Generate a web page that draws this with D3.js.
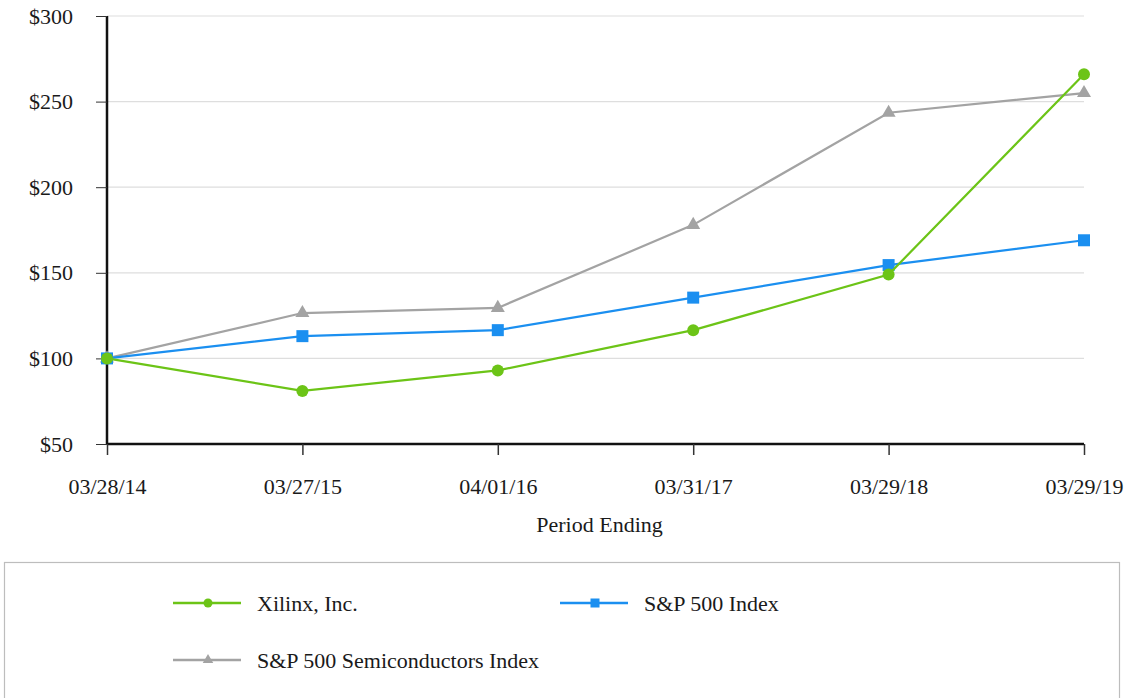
<!DOCTYPE html>
<html>
<head>
<meta charset="utf-8">
<script src="https://cdn.jsdelivr.net/npm/d3@7"></script>
<style>
  body { margin: 0; background: #fff; }
  svg { display: block; font-family: "Liberation Serif", "Times New Roman", serif; }
</style>
</head>
<body>
<svg id="chart" width="1132" height="698"></svg>
<script>
const periods = ["03/28/14", "03/27/15", "04/01/16", "03/31/17", "03/29/18", "03/29/19"];
const xilinx = [100, 81, 93, 116.5, 149, 266];
const sp500 = [100, 113, 116.5, 135.5, 154.5, 169];
const semis = [100, 126.5, 129.5, 178, 243.5, 255];
const yTicks = [50, 100, 150, 200, 250, 300];

const series = [
  { name: "Xilinx, Inc.", values: xilinx, color: "#6cc417", marker: "circle" },
  { name: "S&P 500 Index", values: sp500, color: "#1b8ff0", marker: "square" },
  { name: "S&P 500 Semiconductors Index", values: semis, color: "#a3a3a3", marker: "triangle" },
];

const svg = d3.select("#chart");
const plotLeft = 107, plotRight = 1084, plotTop = 16, plotBottom = 444;
const fontSize = 22;
const textColor = "#1a1a1a";

const x = d3.scalePoint().domain(periods).range([plotLeft, plotRight]);
const y = d3.scaleLinear().domain([50, 300]).range([plotBottom, plotTop]);

// gridlines
svg.append("g")
  .selectAll("line")
  .data(yTicks.filter((d) => d > 50))
  .join("line")
  .attr("x1", plotLeft)
  .attr("x2", plotRight)
  .attr("y1", (d) => y(d))
  .attr("y2", (d) => y(d))
  .attr("stroke", "#dedede")
  .attr("stroke-width", 1.2);

// y axis
const yAxis = svg.append("g")
  .attr("transform", `translate(${plotLeft},0)`)
  .call(d3.axisLeft(y).tickValues(yTicks).tickSize(11).tickPadding(23).tickFormat((d) => "$" + d));
yAxis.select(".domain").attr("stroke", "#111").attr("stroke-width", 2.5).attr("d", `M0,${plotTop}V${plotBottom}`);
yAxis.selectAll(".tick line").attr("stroke", "#333").attr("stroke-width", 1);
yAxis.selectAll("text")
  .attr("font-size", fontSize)
  .attr("fill", textColor)
  .attr("font-family", "Liberation Serif, serif");

// x axis
const xAxis = svg.append("g")
  .attr("transform", `translate(0,${plotBottom})`)
  .call(d3.axisBottom(x).tickSize(11).tickPadding(23));
xAxis.select(".domain").attr("stroke", "#111").attr("stroke-width", 2.5).attr("d", `M${plotLeft},0H${plotRight}`);
xAxis.selectAll(".tick line").attr("stroke", "#333").attr("stroke-width", 1.5);
xAxis.selectAll("text")
  .attr("font-size", fontSize)
  .attr("fill", textColor)
  .attr("font-family", "Liberation Serif, serif");

svg.append("text")
  .attr("x", (plotLeft + plotRight) / 2 + 4)
  .attr("y", 532)
  .attr("text-anchor", "middle")
  .attr("font-size", fontSize)
  .attr("fill", textColor)
  .text("Period Ending");

const line = d3.line()
  .x((d, i) => x(periods[i]))
  .y((d) => y(d));

function drawMarker(g, type, color, cx, cy, s) {
  if (type === "circle") {
    g.append("circle").attr("cx", cx).attr("cy", cy).attr("r", 6 * s).attr("fill", color);
  } else if (type === "square") {
    g.append("rect")
      .attr("x", cx - 6 * s).attr("y", cy - 6 * s)
      .attr("width", 12 * s).attr("height", 12 * s)
      .attr("fill", color);
  } else {
    const sym = d3.symbol().type(d3.symbolTriangle).size(85 * s * s);
    g.append("path")
      .attr("transform", `translate(${cx},${cy})`)
      .attr("d", sym())
      .attr("fill", color);
  }
}

// draw order: semis, sp500, xilinx (xilinx on top)
[series[2], series[1], series[0]].forEach((s) => {
  const g = svg.append("g");
  g.append("path")
    .datum(s.values)
    .attr("d", line)
    .attr("fill", "none")
    .attr("stroke", s.color)
    .attr("stroke-width", 2.2);
  s.values.forEach((v, i) => drawMarker(g, s.marker, s.color, x(periods[i]), y(v), 1));
});

// legend
svg.append("rect")
  .attr("x", 4.5)
  .attr("y", 562.5)
  .attr("width", 1115)
  .attr("height", 140)
  .attr("fill", "none")
  .attr("stroke", "#bdbdbd")
  .attr("stroke-width", 1.2);

const legendPos = [
  { x: 173, y: 603 },
  { x: 560, y: 603 },
  { x: 173, y: 660 },
];
series.forEach((s, i) => {
  const p = legendPos[i];
  const g = svg.append("g");
  g.append("line")
    .attr("x1", p.x).attr("x2", p.x + 68)
    .attr("y1", p.y).attr("y2", p.y)
    .attr("stroke", s.color)
    .attr("stroke-width", 2.5);
  drawMarker(g, s.marker, s.color, p.x + 35, p.y, 0.75);
  g.append("text")
    .attr("x", p.x + 84)
    .attr("y", p.y + 8)
    .attr("font-size", fontSize)
    .attr("fill", textColor)
    .text(s.name);
});
</script>
</body>
</html>
